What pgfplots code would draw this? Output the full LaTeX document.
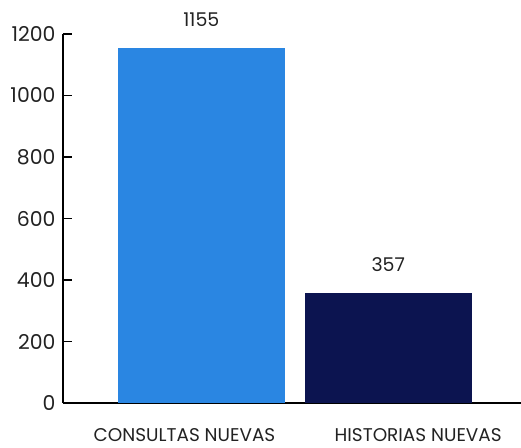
\documentclass[border=0pt]{standalone}
\usepackage{pgfplots}
\pgfplotsset{compat=1.18}
\usepackage{fontspec}
\setmainfont{Poppins}
\usetikzlibrary{calc}

\definecolor{consblue}{HTML}{2A86E2}
\definecolor{histnavy}{HTML}{0C1450}
\definecolor{txt}{HTML}{222222}

\begin{document}
\begin{tikzpicture}
\begin{axis}[
    scale only axis,
    width=458bp, height=369bp,
    axis x line*=bottom, axis y line*=left,
    axis line style={line width=1.6bp, black},
    xmin=-0.74, xmax=1.71,
    ymin=0, ymax=1200,
    ytick={0,200,...,1200},
    xtick={-0.09,1.16},
    xticklabels={CONSULTAS NUEVAS, HISTORIAS NUEVAS},
    x tick style={draw=none},
    y tick style={line width=1.6bp, black},
    tick align=inside,
    major tick length=9bp,
    /pgf/number format/assume math mode=true,
    /pgf/number format/1000 sep={},
    yticklabel style={font=\fontsize{20.5}{22}\selectfont, text=txt, xshift=-4bp},
    xticklabel style={font=\fontsize{18.5}{20}\selectfont, text=txt, inner sep=0pt, text depth=0pt, yshift=-16bp},
    ybar, bar width=0.893, bar shift=0pt,
    nodes near coords,
    every node near coord/.append style={font=\fontsize{19}{20}\selectfont, text=txt, yshift=18bp},
    clip=false,
]
\addplot[draw=none, fill=consblue] coordinates {(0,1155)};
\addplot[draw=none, fill=histnavy] coordinates {(1,357)};
\coordinate (O) at (rel axis cs:0,0);
\end{axis}
\pgfresetboundingbox
\path ($(O)+(-63bp,-45bp)$) rectangle ($(O)+(458bp,403bp)$);
\end{tikzpicture}
\end{document}
